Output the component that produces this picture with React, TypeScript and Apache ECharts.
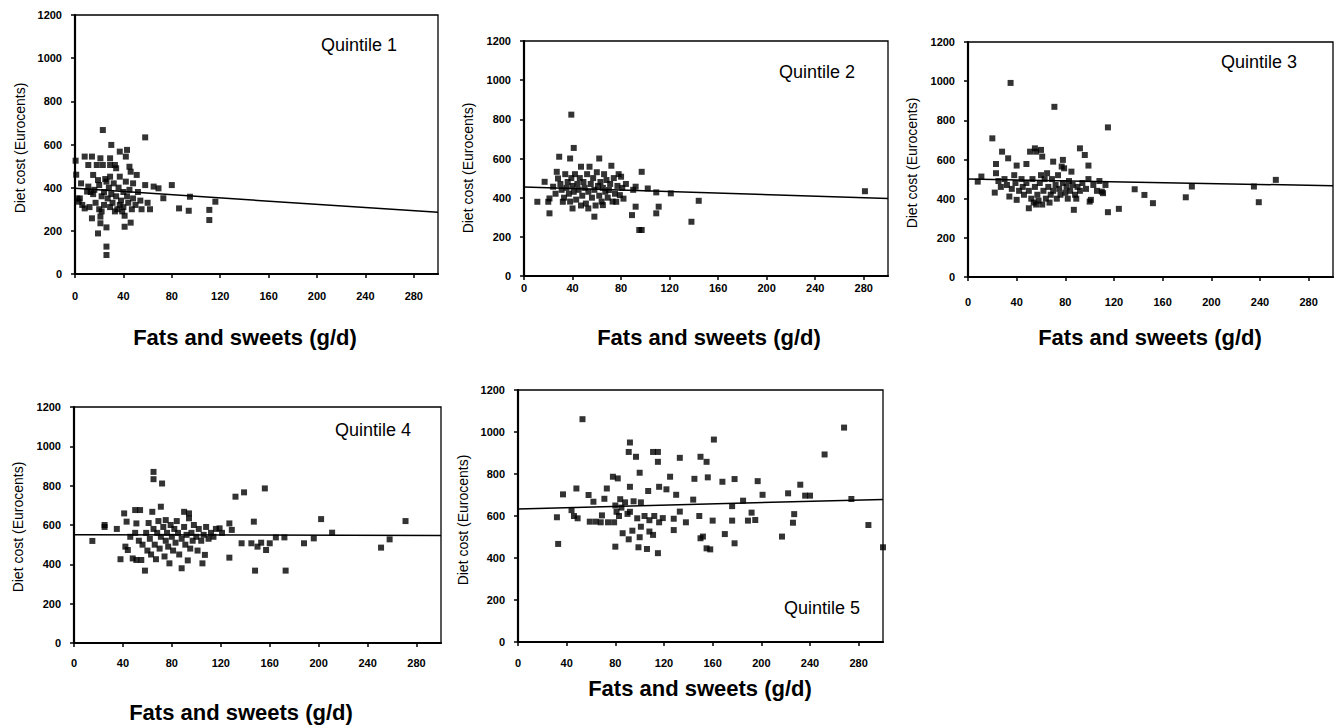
import React, { useEffect, useRef } from "react";
import * as echarts from "echarts";

const xAxisTitle = "Fats and sweets (g/d)";
const yAxisTitle = "Diet cost (Eurocents)";
const quintileNames = ["Quintile 1", "Quintile 2", "Quintile 3", "Quintile 4", "Quintile 5"];

const q1Points = [
  [0.5,525],[1,460],[2,350],[3,335],[4,350],[5,420],[6,320],[8,544],[14,544],[8,304],[10,382],[11,505],[11,405],[12,310],[13,380],[14,258],[15,459],[15,370],[16,390],[17,330],[18,505],[19,435],[19,188],[20,300],[20,412],[21,266],[21,235],[21,536],[22,290],[22,360],[23,505],[23,667],[24,380],[24,320],[25,440],[26,428],[26,216],[26,127],[26,88],[27,350],[28,400],[29,451],[29,505],[29,536],[29,310],[30,598],[30,370],[31,330],[32,420],[33,505],[33,290],[34,490],[34,360],[35,300],[36,400],[37,451],[37,567],[37,320],[38,340],[39,290],[40,380],[40,310],[41,219],[41,270],[42,428],[42,544],[43,575],[43,360],[44,330],[45,497],[45,390],[46,474],[46,238],[47,300],[48,420],[48,350],[50,320],[51,459],[52,380],[54,340],[55,300],[58,412],[58,633],[60,330],[62,300],[65,405],[69,397],[73,351],[80,412],[86,304],[94,293],[95,358],[111,297],[111,250],[116,335]
];
const q2Points = [
  [11,379],[17,481],[20,379],[21,396],[21,320],[24,456],[26,420],[27,532],[28,498],[29,609],[30,470],[31,440],[32,379],[33,400],[34,520],[35,450],[36,480],[37,420],[38,600],[38,380],[39,824],[39,500],[40,345],[40,460],[41,654],[41,430],[42,520],[43,390],[44,470],[45,440],[46,500],[47,558],[47,360],[48,410],[49,480],[50,450],[51,370],[52,520],[53,345],[53,430],[54,558],[55,470],[56,400],[57,500],[58,303],[58,440],[59,360],[60,530],[61,460],[62,600],[62,410],[63,480],[64,380],[65,362],[65,450],[66,520],[67,430],[68,490],[69,400],[70,439],[71,470],[72,563],[73,380],[74,500],[75,420],[76,379],[77,460],[78,520],[79,413],[80,507],[81,450],[82,395],[84,470],[89,311],[90,440],[92,354],[92,456],[95,235],[97,235],[97,532],[102,447],[109,427],[109,320],[111,354],[121,422],[138,277],[144,384],[281,433]
];
const q3Points = [
  [8,487],[11,513],[20,708],[22,431],[23,577],[23,530],[25,490],[27,460],[28,640],[30,500],[32,470],[33,606],[34,411],[35,991],[36,450],[38,520],[39,480],[40,569],[40,394],[42,440],[44,500],[45,460],[46,420],[48,577],[48,480],[50,351],[50,440],[51,640],[52,400],[53,500],[54,380],[55,657],[55,460],[56,640],[56,370],[57,420],[58,390],[59,480],[60,649],[60,520],[61,615],[61,370],[62,440],[63,500],[64,400],[65,530],[66,460],[67,380],[68,420],[69,500],[70,589],[70,440],[71,869],[72,470],[73,400],[74,520],[75,450],[76,420],[77,564],[78,598],[78,480],[79,555],[80,430],[81,460],[82,400],[83,490],[84,440],[85,538],[86,470],[87,343],[88,420],[89,400],[90,460],[92,657],[92,440],[94,480],[96,623],[97,450],[99,569],[99,500],[100,385],[101,394],[103,470],[106,440],[108,490],[110,436],[111,428],[113,470],[115,764],[115,331],[124,348],[137,448],[145,419],[152,377],[179,407],[184,462],[235,462],[239,382],[253,496]
];
const q4Points = [
  [15,519],[25,600],[25,590],[35,580],[38,426],[41,659],[42,490],[43,617],[44,473],[46,540],[48,430],[50,676],[50,560],[51,608],[51,422],[53,520],[54,676],[55,422],[56,500],[58,368],[59,560],[60,470],[61,610],[62,530],[63,450],[64,667],[65,870],[65,833],[65,580],[66,500],[67,426],[68,560],[69,620],[70,480],[71,693],[71,540],[72,811],[73,590],[74,440],[75,625],[75,520],[76,560],[77,490],[78,405],[79,600],[80,540],[81,470],[82,580],[83,510],[84,620],[85,560],[86,450],[88,380],[88,530],[90,667],[90,590],[91,500],[92,550],[93,420],[94,659],[94,634],[95,480],[96,560],[97,520],[98,600],[100,540],[101,470],[102,580],[104,520],[105,405],[106,550],[107,448],[108,590],[110,530],[112,560],[114,540],[116,580],[119,583],[121,560],[127,608],[127,434],[129,575],[132,744],[137,507],[139,766],[145,507],[147,617],[148,368],[150,490],[153,510],[156,786],[157,473],[160,507],[165,537],[172,537],[173,368],[188,507],[196,532],[202,630],[211,561],[251,485],[258,527],[271,620]
];
const q5Points = [
  [32,594],[33,467],[37,703],[44,628],[46,600],[48,731],[49,589],[53,1061],[58,700],[59,573],[62,668],[64,573],[68,570],[69,603],[71,682],[73,731],[74,570],[78,787],[79,570],[80,454],[80,650],[81,620],[82,779],[83,600],[84,680],[85,640],[86,518],[88,665],[90,610],[91,489],[91,905],[92,950],[92,620],[92,739],[94,530],[95,670],[97,882],[98,589],[99,451],[100,806],[100,499],[101,549],[101,665],[104,600],[106,443],[107,719],[108,526],[108,580],[111,510],[111,905],[112,600],[115,905],[115,423],[115,858],[116,739],[116,570],[119,590],[122,727],[125,787],[128,587],[128,533],[130,701],[133,621],[133,877],[138,570],[144,678],[145,777],[149,600],[150,494],[150,882],[152,502],[155,858],[155,446],[156,784],[158,441],[160,578],[161,964],[168,763],[170,514],[176,647],[176,578],[178,776],[178,470],[185,673],[189,578],[192,616],[195,581],[197,766],[201,701],[217,502],[222,708],[226,568],[227,609],[232,749],[236,697],[240,697],[252,893],[268,1021],[274,681],[288,557],[300,451]
];

const fitStart = [397, 455, 500, 551, 633];
const fitEnd = [286, 396, 466, 546, 679];
const allPoints = [q1Points, q2Points, q3Points, q4Points, q5Points];

const X_MIN = 0, X_MAX = 300, X_STEP = 40;
const Y_MIN = 0, Y_MAX = 1200, Y_STEP = 200;

const layout = [
  { left: 75, top: 15, width: 363, height: 259, xm: 16, xt: [245, 337], yt: [20, 148], qt: [359, 45] },
  { left: 524, top: 41, width: 364, height: 235, xm: 6, xt: [709, 337], yt: [468, 168], qt: [817, 72] },
  { left: 968, top: 42, width: 365, height: 235, xm: 19, xt: [1150, 337], yt: [912, 163], qt: [1259, 62] },
  { left: 74, top: 407, width: 367, height: 236, xm: 14, xt: [241, 712], yt: [18, 527], qt: [373, 430] },
  { left: 518, top: 390, width: 365, height: 252, xm: 15, xt: [700, 688], yt: [463, 520], qt: [822, 608] },
];

const FONT = "'Liberation Sans', Arial, sans-serif";

export default function App() {
  const ref = useRef<HTMLDivElement>(null);
  useEffect(() => {
    if (!ref.current) return;
    const chart = echarts.init(ref.current, undefined, { renderer: "svg" });
    const grids: any[] = [];
    const xAxes: any[] = [];
    const yAxes: any[] = [];
    const series: any[] = [];
    const graphics: any[] = [];
    const plain = (v: number) => String(v);
    layout.forEach((p, i) => {
      grids.push({ left: p.left, top: p.top, width: p.width, height: p.height, show: true, borderColor: "#000", borderWidth: 1.3, backgroundColor: "#fff" });
      xAxes.push({
        gridIndex: i, type: "value", min: X_MIN, max: X_MAX, interval: X_STEP,
        axisLine: { show: true, onZero: false, lineStyle: { color: "#000", width: 2.2 } },
        axisTick: { show: true, length: 4, lineStyle: { color: "#000", width: 1.5 } },
        axisLabel: { showMaxLabel: false, margin: p.xm, formatter: plain, color: "#000", fontSize: 11, fontWeight: "bold", fontFamily: FONT },
        splitLine: { show: false },
      });
      yAxes.push({
        gridIndex: i, type: "value", min: Y_MIN, max: Y_MAX, interval: Y_STEP,
        axisLine: { show: true, onZero: false, lineStyle: { color: "#000", width: 2.2 } },
        axisTick: { show: true, length: 4, lineStyle: { color: "#000", width: 1.5 } },
        axisLabel: { margin: 13, formatter: plain, color: "#000", fontSize: 11, fontWeight: "bold", fontFamily: FONT },
        splitLine: { show: false },
      });
      series.push({
        type: "scatter", xAxisIndex: i, yAxisIndex: i, data: allPoints[i],
        symbol: "rect", symbolSize: 6, itemStyle: { color: "#000" }, silent: true,
      });
      series.push({
        type: "line", xAxisIndex: i, yAxisIndex: i,
        data: [[X_MIN, fitStart[i]], [X_MAX, fitEnd[i]]],
        symbol: "none", lineStyle: { color: "#000", width: 1.5 }, silent: true,
      });
      graphics.push({
        type: "text", x: p.xt[0], y: p.xt[1],
        style: { text: xAxisTitle, fill: "#000", font: `bold 22px ${FONT}`, textAlign: "center", textVerticalAlign: "middle", align: "center", verticalAlign: "middle" },
      });
      graphics.push({
        type: "text", x: p.yt[0], y: p.yt[1], rotation: Math.PI / 2,
        style: { text: yAxisTitle, fill: "#000", font: `14px ${FONT}`, textAlign: "center", textVerticalAlign: "middle", align: "center", verticalAlign: "middle" },
      });
      graphics.push({
        type: "text", x: p.qt[0], y: p.qt[1],
        style: { text: quintileNames[i], fill: "#000", font: `18px ${FONT}`, textAlign: "center", textVerticalAlign: "middle", align: "center", verticalAlign: "middle" },
      });
    });
    chart.setOption({
      animation: false,
      backgroundColor: "#fff",
      grid: grids,
      xAxis: xAxes,
      yAxis: yAxes,
      series,
      graphic: graphics,
    });
    return () => chart.dispose();
  }, []);
  return (
    <div
      ref={ref}
      style={{ position: "fixed", left: 0, top: 0, width: 1341, height: 728, background: "#fff" }}
    />
  );
}
